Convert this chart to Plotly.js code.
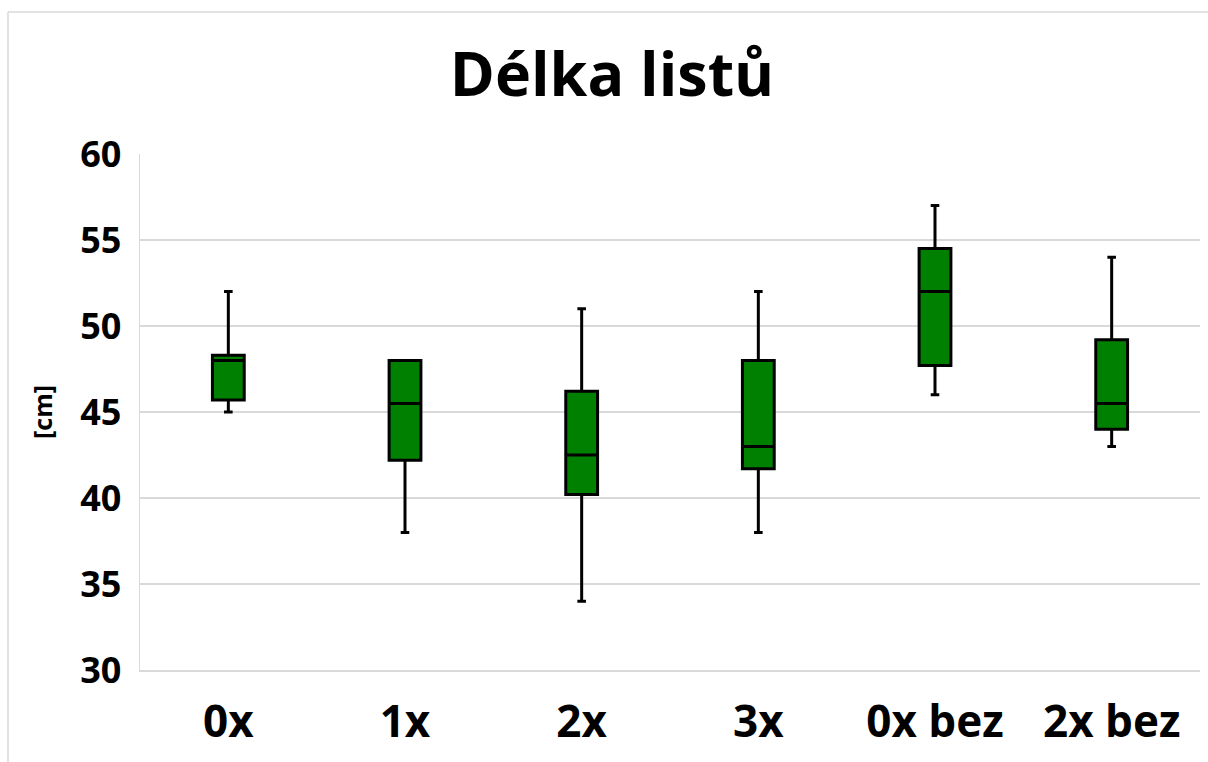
<!DOCTYPE html>
<html>
<head>
<meta charset="utf-8">
<script src="https://cdn.plot.ly/plotly-3.0.1.min.js"></script>
<style>html,body{margin:0;padding:0;background:#fff;}#chart{width:1208px;height:762px;}</style>
</head>
<body>
<div id="chart"></div>
<script>
const categories = ["0x", "1x", "2x", "3x", "0x bez", "2x bez"];
const minimum = [45, 38, 34, 38, 46, 43];
const q1 = [45.7, 42.2, 40.2, 41.7, 47.7, 44];
const median = [48, 45.5, 42.5, 43, 52, 45.5];
const q3 = [48.3, 48, 46.2, 48, 54.5, 49.2];
const maximum = [52, 48, 51, 52, 57, 54];
const yTicks = [30, 35, 40, 45, 50, 55, 60];

const trace = {
  type: "box",
  x: categories,
  q1: q1,
  median: median,
  q3: q3,
  lowerfence: minimum,
  upperfence: maximum,
  fillcolor: "#008000",
  line: {color: "#000000", width: 3},
  whiskerwidth: 0.27,
  boxpoints: false,
  hoverinfo: "skip",
  showlegend: false
};

const W = 1208, H = 762;
const m = {l: 140, r: 8, t: 154, b: 92};
const pw = W - m.l - m.r, ph = H - m.t - m.b;
const px = v => (v - m.l) / pw;
const py = v => (H - m.b - v) / ph;

const layout = {
  width: W, height: H,
  margin: m,
  paper_bgcolor: "#ffffff",
  plot_bgcolor: "#ffffff",
  font: {family: "Open Sans, sans-serif", color: "#000000"},
  title: {
    text: "<b>Délka listů</b>",
    font: {family: "Open Sans, sans-serif", size: 61, color: "#000000"},
    xref: "paper", x: px(612), xanchor: "center",
    y: 1 - 75 / H, yanchor: "middle"
  },
  boxgap: 0.82,
  boxgroupgap: 0,
  xaxis: {
    type: "category",
    categoryorder: "array",
    categoryarray: categories,
    tickfont: {family: "Open Sans, sans-serif", size: 44, color: "#000000", weight: "bold"},
    showgrid: false,
    showline: true,
    linecolor: "#d9d9d9",
    linewidth: 1.5,
    ticks: "",
    ticklabelstandoff: 13,
    fixedrange: true
  },
  yaxis: {
    range: [30, 60],
    tickvals: yTicks,
    ticktext: yTicks.map(String),
    tickfont: {family: "Open Sans, sans-serif", size: 36, color: "#000000", weight: "bold"},
    showgrid: true,
    gridcolor: "#d9d9d9",
    gridwidth: 1.5,
    showline: true,
    linecolor: "#d9d9d9",
    linewidth: 1.5,
    zeroline: false,
    ticks: "",
    ticklabelstandoff: 10,
    title: {
      text: "<b>[cm]</b>",
      font: {family: "Open Sans, sans-serif", size: 25, color: "#000000"},
      standoff: 20
    },
    fixedrange: true
  },
  shapes: [
    {type: "line", xref: "paper", yref: "paper",
     x0: px(8), x1: px(8), y0: py(800), y1: py(12),
     line: {color: "#d9d9d9", width: 1.5}, layer: "below"},
    {type: "line", xref: "paper", yref: "paper",
     x0: px(8), x1: px(1250), y0: py(12), y1: py(12),
     line: {color: "#d9d9d9", width: 1.5}, layer: "below"}
  ]
};

Plotly.newPlot("chart", [trace], layout, {displayModeBar: false, staticPlot: true});
</script>
</body>
</html>
